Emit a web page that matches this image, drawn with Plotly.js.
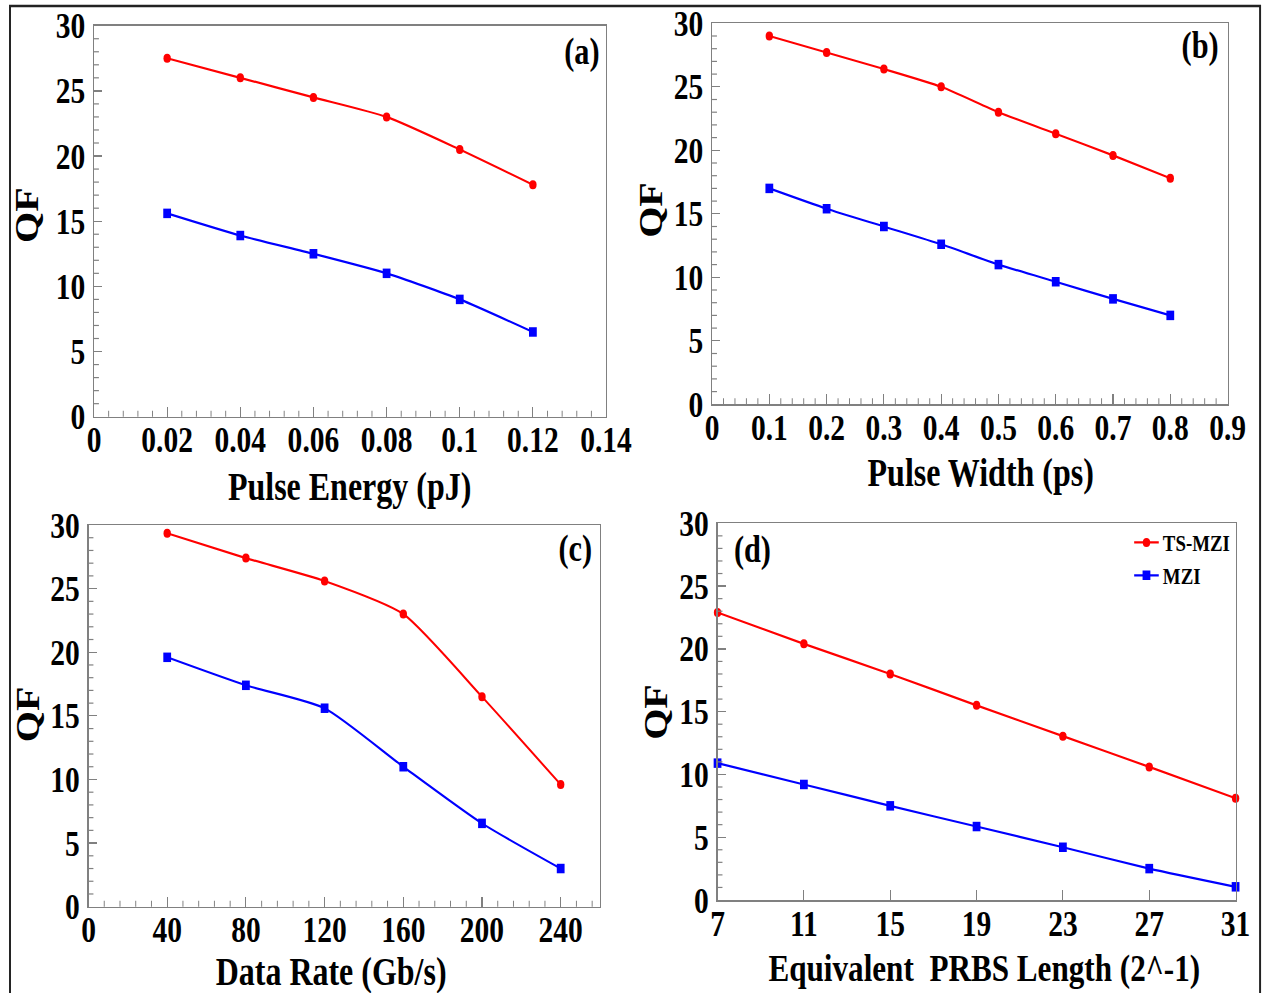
<!DOCTYPE html>
<html>
<head>
<meta charset="utf-8">
<script src="https://cdn.plot.ly/plotly-3.0.1.min.js"></script>
<style>
  html, body { margin: 0; padding: 0; background: #fff; overflow: hidden; }
  #wrap { width: 1266px; height: 993px; overflow: hidden; }
  #chart { transform: scaleX(0.82); transform-origin: 0 0; }
</style>
</head>
<body>
<div id="wrap"><div id="chart"></div></div>
<script>
// ---- data ----
const seriesNames = ["TS-MZI", "MZI"];

const pulseEnergy = [0.02, 0.04, 0.06, 0.08, 0.10, 0.12];
const qfEnergyTS  = [27.5, 26.0, 24.5, 23.0, 20.5, 17.8];
const qfEnergyMZI = [15.6, 13.9, 12.5, 11.0, 9.0, 6.5];

const pulseWidth = [0.1, 0.2, 0.3, 0.4, 0.5, 0.6, 0.7, 0.8];
const qfWidthTS  = [29.0, 27.7, 26.4, 25.0, 23.0, 21.3, 19.6, 17.8];
const qfWidthMZI = [17.0, 15.4, 14.0, 12.6, 11.0, 9.65, 8.3, 7.0];

const dataRate = [40, 80, 120, 160, 200, 240];
const qfRateTS  = [29.35, 27.4, 25.6, 23.0, 16.5, 9.6];
const qfRateMZI = [19.6, 17.4, 15.6, 11.0, 6.55, 3.0];

const prbsLength = [7, 11, 15, 19, 23, 27, 31];
const qfPrbsTS  = [22.9, 20.4, 18.0, 15.5, 13.05, 10.6, 8.1];
const qfPrbsMZI = [10.9, 9.2, 7.5, 5.85, 4.2, 2.5, 1.05];

const panelLabels = ["(a)", "(b)", "(c)", "(d)"];
const xTitles = ["Pulse Energy (pJ)", "Pulse Width (ps)", "Data Rate (Gb/s)", "Equivalent  PRBS Length (2^-1)"];
const yTitle = "QF";

// ---- layout helpers ----
const S = 0.82;                // horizontal squeeze of the original figure
const W = 1266 / S, H = 993;
const px = x => x / 1266;
const py = y => 1 - y / 993;

const RED = "#ff0000", BLUE = "#0000ff";
const FONT = "Liberation Serif, Times New Roman, serif";

function pair(x, ts, mzi, xa, ya, showLeg) {
  return [
    { x: x, y: ts, xaxis: xa, yaxis: ya, name: seriesNames[0], type: "scatter", mode: "lines+markers",
      line: { color: RED, width: 2.2, shape: "spline", smoothing: 0.6 }, cliponaxis: false,
      marker: { symbol: "circle", size: 9, color: RED }, showlegend: showLeg, legendrank: 1 },
    { x: x, y: mzi, xaxis: xa, yaxis: ya, name: seriesNames[1], type: "scatter", mode: "lines+markers",
      line: { color: BLUE, width: 2.2, shape: "spline", smoothing: 0.6 }, cliponaxis: false,
      marker: { symbol: "square", size: 9.5, color: BLUE }, showlegend: showLeg, legendrank: 2 }
  ];
}

const traces = [].concat(
  pair(pulseEnergy, qfEnergyTS, qfEnergyMZI, "x", "y", false),
  pair(pulseWidth, qfWidthTS, qfWidthMZI, "x2", "y2", false),
  pair(dataRate, qfRateTS, qfRateMZI, "x3", "y3", false),
  pair(prbsLength, qfPrbsTS, qfPrbsMZI, "x4", "y4", true)
);

const tickFont = { family: FONT, size: 36, color: "#000", weight: "bold" };
function xax(domain, anchor, range, dtick, minorDtick) {
  const a = {
    domain: domain, anchor: anchor, range: range, dtick: dtick, tick0: range[0],
    showgrid: false, zeroline: false, showline: true, mirror: true,
    linecolor: "#808080", linewidth: 1.5,
    ticks: "inside", ticklen: 10, tickwidth: 1.3, tickcolor: "#808080",
    tickfont: tickFont, ticklabelstandoff: -9, fixedrange: true
  };
  if (minorDtick) a.minor = { dtick: minorDtick, ticks: "inside", ticklen: 6, tickwidth: 1.2, tickcolor: "#808080", showgrid: false };
  return a;
}
function yax(domain, anchor) {
  return {
    domain: domain, anchor: anchor, range: [0, 30], dtick: 5, tick0: 0,
    showgrid: false, zeroline: false, showline: true, mirror: true,
    linecolor: "#808080", linewidth: 1.5,
    ticks: "inside", ticklen: 10, tickwidth: 1.3, tickcolor: "#808080",
    tickfont: tickFont, ticklabelstandoff: 2, fixedrange: true,
    minor: { dtick: 1, ticks: "inside", ticklen: 6, tickwidth: 1.2, tickcolor: "#808080", showgrid: false }
  };
}

const titleFont = { family: FONT, size: 39, color: "#000", weight: "bold" };
const titleFontD = { family: FONT, size: 38, color: "#000", weight: "bold" };
const qfFont = { family: FONT, size: 40, color: "#000", weight: "bold" };
const labFont = { family: FONT, size: 37, color: "#000", weight: "bold" };
function ann(text, x, y, font, rot) {
  return { text: text, x: px(x), y: py(y), xref: "paper", yref: "paper",
           xanchor: "center", yanchor: "middle", showarrow: false, font: font, textangle: rot || 0 };
}

const layout = {
  width: W, height: H, autosize: false,
  margin: { l: 0, r: 0, t: 0, b: 0, pad: 0 },
  paper_bgcolor: "#fff", plot_bgcolor: "#fff",
  showlegend: true,
  legend: {
    x: px(1130), y: py(521), xanchor: "left", yanchor: "top",
    bgcolor: "rgba(0,0,0,0)", borderwidth: 0,
    font: { family: FONT, size: 23, color: "#000", weight: "bold" },
    itemwidth: 30, tracegroupgap: 4, traceorder: "normal"
  },
  xaxis:  xax([px(94),  px(606)],  "y",  [0, 0.14], 0.02, 0.004),
  yaxis:  yax([py(416.7), py(25.7)], "x"),
  xaxis2: xax([px(712), px(1227.5)], "y2", [0, 0.9], 0.1, 0.02),
  yaxis2: yax([py(404.3), py(23.3)], "x2"),
  xaxis3: xax([px(88.5), px(600)], "y3", [0, 260], 40, 8),
  yaxis3: yax([py(906.7), py(525)], "x3"),
  xaxis4: xax([px(717.5), px(1235.5)], "y4", [7, 31], 4, null),
  yaxis4: yax([py(900), py(523.3)], "x4"),
  annotations: [
    ann(panelLabels[0], 582, 52, labFont),
    ann(panelLabels[1], 1200, 46, labFont),
    ann(panelLabels[2], 575, 549, labFont),
    ann(panelLabels[3], 752, 550, labFont),
    ann(xTitles[0], 350, 487, titleFont),
    ann(xTitles[1], 981, 473, titleFont),
    ann(xTitles[2], 331, 972, titleFont),
    ann(xTitles[3], 984, 968, titleFontD),
    ann(yTitle, 27, 215, qfFont, -90),
    ann(yTitle, 650, 210, qfFont, -90),
    ann(yTitle, 28, 714, qfFont, -90),
    ann(yTitle, 655, 712, qfFont, -90)
  ],
  shapes: [
    { type: "rect", xref: "paper", yref: "paper", x0: px(10), x1: px(1260), y0: -0.05, y1: py(6),
      line: { color: "#222", width: 2.4 }, fillcolor: "rgba(0,0,0,0)", layer: "below" }
  ]
};

Plotly.newPlot("chart", traces, layout, { displayModeBar: false, staticPlot: true });
</script>
</body>
</html>
